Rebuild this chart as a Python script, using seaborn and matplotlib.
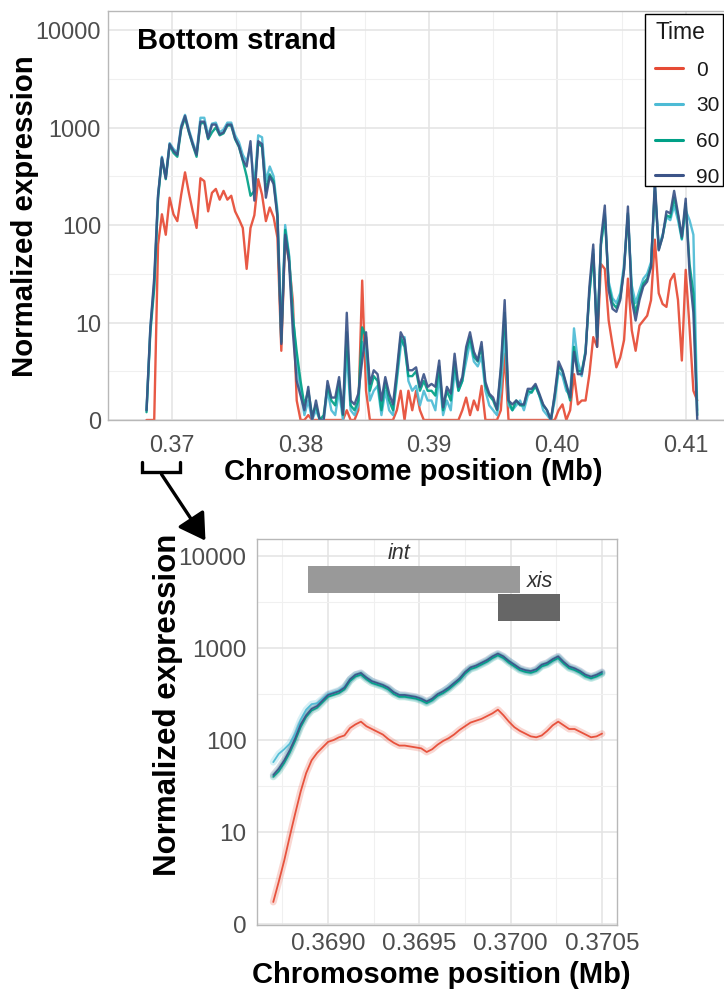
import numpy as np
import pandas as pd
import matplotlib
matplotlib.use("Agg")
import matplotlib.pyplot as plt
import seaborn as sns
from matplotlib.lines import Line2D
from matplotlib.patches import FancyArrowPatch, Rectangle

sns.set_style("white")
plt.rcParams["font.family"] = ["Liberation Sans", "DejaVu Sans"]
plt.rcParams["text.color"] = "black"
plt.rcParams["axes.labelcolor"] = "black"

# ---------------- data ----------------
time_levels = ["0", "30", "60", "90"]
palette = {"0": "#E64B35", "30": "#4DBBD5", "60": "#00A087", "90": "#3C5488"}

ytick_pos = [0, 1, 2, 3, 4]
ytick_labels = ["0", "10", "100", "1000", "10000"]

# top panel: positions in Mb (bins), values = log10(expression + 1)
top_start = 0.3680
top_step = 0.0003
top_log_t0 = [0.0, 0.0, 0.0, 1.8, 2.11, 1.9, 2.28, 2.11, 2.04, 2.31,
              2.54, 2.33, 2.14, 1.97, 2.48, 2.45, 2.14, 2.33, 2.37, 2.26,
              2.35, 2.26, 2.3, 2.14, 2.06, 1.97, 1.55, 1.97, 2.1, 2.47,
              2.31, 2.04, 2.18, 2.08, 1.87, 0.71, 1.87, 1.63, 1.22, 0.2,
              0.0, 0.0, 0.05, 0.0, 0.0, 0.0, 0.0, 0.0, 0.0, 0.0,
              0.0, 0.0, 0.1, 0.0, 0.0, 0.1, 1.43, 0.3, 0.0, 0.0,
              0.0, 0.0, 0.0, 0.0, 0.0, 0.1, 0.3, 0.0, 0.3, 0.1,
              0.3, 0.1, 0.0, 0.0, 0.0, 0.0, 0.0, 0.0, 0.0, 0.0,
              0.0, 0.0, 0.1, 0.23, 0.05, 0.2, 0.1, 0.35, 0.0, 0.0,
              0.0, 0.0, 0.1, 0.68, 0.0, 0.0, 0.0, 0.0, 0.0, 0.0,
              0.0, 0.0, 0.0, 0.0, 0.0, 0.0, 0.0, 0.1, 0.16, 0.0,
              0.1, 0.47, 0.16, 0.2, 0.2, 0.47, 0.85, 0.75, 1.6, 1.55,
              1.02, 0.77, 0.54, 0.64, 0.82, 1.45, 0.92, 0.71, 0.97, 1.02,
              1.07, 1.23, 1.85, 1.3, 1.19, 1.16, 1.43, 1.5, 1.23, 0.61,
              1.54, 0.95, 0.3, 0.2]
top_log_t30 = [0.1, 0.95, 1.4, 2.3, 2.7, 2.5, 2.84, 2.78, 2.74, 3.02,
               3.13, 2.98, 2.85, 2.74, 3.1, 3.1, 2.92, 3.04, 3.05, 2.95,
               2.98, 3.05, 3.05, 2.92, 2.85, 2.72, 2.65, 2.8, 2.4, 2.92,
               2.9, 2.45, 2.6, 2.5, 2.15, 0.9, 2.0, 1.7, 1.1, 0.6,
               0.3, 0.05, 0.2, 0.0, 0.1, 0.0, 0.0, 0.3, 0.1, 0.05,
               0.3, 0.0, 0.7, 0.1, 0.05, 0.15, 0.8, 0.7, 0.2, 0.3,
               0.35, 0.05, 0.3, 0.1, 0.05, 0.4, 0.75, 0.85, 0.4, 0.3,
               0.35, 0.15, 0.3, 0.2, 0.2, 0.1, 0.45, 0.05, 0.2, 0.1,
               0.5, 0.3, 0.4, 0.6, 0.8, 0.6, 0.55, 0.65, 0.3, 0.15,
               0.1, 0.05, 0.3, 0.9, 0.15, 0.1, 0.15, 0.2, 0.1, 0.25,
               0.3, 0.35, 0.25, 0.1, 0.05, 0.0, 0.2, 0.5, 0.45, 0.3,
               0.25, 0.94, 0.6, 0.45, 0.72, 1.3, 1.75, 0.85, 1.8, 2.12,
               1.42, 1.25, 1.2, 1.3, 1.6, 2.1, 1.38, 1.2, 1.33, 1.45,
               1.5, 1.62, 2.35, 1.78, 1.9, 2.08, 2.05, 2.2, 2.05, 1.85,
               2.15, 2.05, 1.9, 0.1]
top_log_t60 = [0.08, 0.9, 1.35, 2.28, 2.68, 2.47, 2.82, 2.74, 2.7, 2.98,
               3.1, 2.95, 2.82, 2.7, 3.04, 3.05, 2.88, 2.95, 3.0, 2.92,
               2.94, 3.02, 3.02, 2.88, 2.8, 2.66, 2.5, 2.3, 2.35, 2.84,
               2.8, 2.35, 2.52, 2.45, 2.1, 0.8, 1.95, 1.68, 1.05, 0.7,
               0.4, 0.15, 0.3, 0.05, 0.15, 0.0, 0.05, 0.35, 0.2, 0.15,
               0.4, 0.05, 0.9, 0.15, 0.1, 0.2, 0.95, 0.85, 0.3, 0.45,
               0.4, 0.1, 0.4, 0.2, 0.1, 0.45, 0.85, 0.75, 0.45, 0.45,
               0.5, 0.3, 0.4, 0.3, 0.3, 0.25, 0.55, 0.1, 0.3, 0.2,
               0.6, 0.3, 0.4, 0.7, 0.85, 0.65, 0.6, 0.75, 0.35, 0.25,
               0.2, 0.1, 0.5, 1.1, 0.2, 0.1, 0.2, 0.15, 0.15, 0.3,
               0.28, 0.35, 0.25, 0.15, 0.1, 0.0, 0.25, 0.55, 0.5, 0.35,
               0.2, 0.75, 0.5, 0.5, 0.7, 1.3, 1.7, 0.85, 1.8, 2.1,
               1.38, 1.2, 1.15, 1.25, 1.55, 2.12, 1.3, 1.1, 1.27, 1.4,
               1.45, 1.58, 2.4, 1.75, 1.88, 2.1, 2.08, 2.28, 2.1, 1.86,
               2.22, 1.6, 1.3, 0.05]
top_log_t90 = [0.1, 0.95, 1.46, 2.31, 2.69, 2.48, 2.83, 2.76, 2.72, 3.0,
               3.12, 2.96, 2.83, 2.72, 3.06, 3.06, 2.89, 3.03, 3.03, 2.93,
               2.95, 3.03, 3.03, 2.89, 2.81, 2.67, 2.6, 2.86, 2.25, 2.86,
               2.83, 2.28, 2.5, 2.42, 2.08, 0.78, 1.9, 1.63, 0.9, 0.4,
               0.25, 0.1, 0.34, 0.0, 0.2, 0.0, 0.0, 0.4, 0.23, 0.23,
               0.44, 0.06, 1.1, 0.2, 0.16, 0.27, 0.61, 0.9, 0.37, 0.51,
               0.47, 0.2, 0.44, 0.27, 0.16, 0.51, 0.9, 0.82, 0.51, 0.51,
               0.54, 0.34, 0.47, 0.34, 0.37, 0.34, 0.61, 0.13, 0.34, 0.27,
               0.68, 0.34, 0.44, 0.75, 0.9, 0.7, 0.61, 0.8, 0.39, 0.27,
               0.23, 0.11, 0.54, 1.23, 0.2, 0.16, 0.2, 0.16, 0.16, 0.32,
               0.32, 0.37, 0.27, 0.16, 0.1, 0.0, 0.27, 0.6, 0.51, 0.37,
               0.23, 0.7, 0.47, 0.47, 0.68, 1.37, 1.8, 0.75, 1.85, 2.2,
               1.33, 1.14, 1.11, 1.23, 1.54, 2.19, 1.23, 1.02, 1.23, 1.37,
               1.42, 1.57, 2.45, 1.74, 1.88, 2.14, 2.12, 2.35, 2.12, 1.88,
               2.27, 1.5, 1.1, 0.0]

top_xticks = [0.37, 0.38, 0.39, 0.40, 0.41]
top_xticklabels = ["0.37", "0.38", "0.39", "0.40", "0.41"]

# bottom (zoom) panel
bot_start = 0.36870
bot_step = 0.00003
bot_log_t0 = [0.24, 0.46, 0.69, 0.95, 1.2, 1.44, 1.64, 1.78, 1.86, 1.92,
              1.98, 2.0, 2.03, 2.05, 2.13, 2.17, 2.2, 2.15, 2.12, 2.09,
              2.06, 2.01, 1.97, 1.94, 1.94, 1.93, 1.92, 1.91, 1.87, 1.9,
              1.95, 1.99, 2.02, 2.06, 2.11, 2.15, 2.19, 2.21, 2.23, 2.26,
              2.29, 2.33, 2.27, 2.2, 2.14, 2.1, 2.07, 2.04, 2.03, 2.05,
              2.1, 2.16, 2.2, 2.16, 2.12, 2.12, 2.09, 2.06, 2.03, 2.04,
              2.07]
bot_log_t30 = [1.76, 1.85, 1.9, 1.96, 2.07, 2.22, 2.33, 2.39, 2.4, 2.45,
               2.5, 2.52, 2.54, 2.58, 2.66, 2.71, 2.72, 2.68, 2.64, 2.61,
               2.59, 2.56, 2.52, 2.49, 2.48, 2.47, 2.46, 2.44, 2.41, 2.44,
               2.49, 2.53, 2.57, 2.62, 2.66, 2.73, 2.78, 2.8, 2.83, 2.86,
               2.9, 2.93, 2.9, 2.86, 2.82, 2.77, 2.75, 2.74, 2.76, 2.81,
               2.83, 2.87, 2.9, 2.84, 2.79, 2.77, 2.74, 2.7, 2.68, 2.7,
               2.73]
bot_log_t60 = [1.6, 1.66, 1.75, 1.86, 1.99, 2.14, 2.25, 2.32, 2.35, 2.41,
               2.47, 2.49, 2.51, 2.55, 2.64, 2.69, 2.71, 2.66, 2.62, 2.6,
               2.58, 2.55, 2.5, 2.47, 2.47, 2.46, 2.45, 2.43, 2.4, 2.43,
               2.48, 2.51, 2.55, 2.6, 2.65, 2.72, 2.77, 2.79, 2.82, 2.85,
               2.89, 2.92, 2.89, 2.84, 2.8, 2.76, 2.74, 2.73, 2.75, 2.8,
               2.82, 2.86, 2.89, 2.83, 2.78, 2.76, 2.73, 2.69, 2.67, 2.69,
               2.72]
bot_log_t90 = [1.62, 1.69, 1.78, 1.89, 2.02, 2.17, 2.27, 2.34, 2.37, 2.43,
               2.49, 2.51, 2.53, 2.57, 2.66, 2.71, 2.73, 2.68, 2.64, 2.62,
               2.6, 2.57, 2.52, 2.49, 2.49, 2.48, 2.47, 2.45, 2.42, 2.45,
               2.5, 2.53, 2.57, 2.62, 2.67, 2.74, 2.79, 2.81, 2.84, 2.87,
               2.91, 2.94, 2.91, 2.86, 2.82, 2.78, 2.76, 2.75, 2.77, 2.82,
               2.84, 2.88, 2.91, 2.85, 2.8, 2.78, 2.75, 2.71, 2.69, 2.71,
               2.74]

bot_xticks = [0.3690, 0.3695, 0.3700, 0.3705]
bot_xticklabels = ["0.3690", "0.3695", "0.3700", "0.3705"]

gene_names = ["int", "xis"]
gene_start = [0.36889, 0.36993]
gene_end = [0.37005, 0.37027]
gene_low = [3.60, 3.29]
gene_high = [3.89, 3.59]
gene_label_x = [0.36939, 0.37016]
gene_label_y = [4.03, 3.72]
gene_colors = ["#999999", "#666666"]


def long_frame(start, step, series):
    rows = []
    for t, vals in zip(time_levels, series):
        pos = np.round(start + step * np.arange(len(vals)), 6)
        rows.append(pd.DataFrame({"pos": pos, "val": vals, "Time": t}))
    return pd.concat(rows, ignore_index=True)


df_top = long_frame(top_start, top_step, [top_log_t0, top_log_t30, top_log_t60, top_log_t90])
df_bot = long_frame(bot_start, bot_step, [bot_log_t0, bot_log_t30, bot_log_t60, bot_log_t90])

# ---------------- figure ----------------
W, H = 724, 991
fig = plt.figure(figsize=(W / 100, H / 100), dpi=100)
fig.patch.set_facecolor("white")


def ax_rect(l, t, r, b):
    return [l / W, 1 - b / H, (r - l) / W, (b - t) / H]


ax1 = fig.add_axes(ax_rect(108, 11, 726, 420))
ax2 = fig.add_axes(ax_rect(257, 539, 617, 925))

grid_major = "#E3E3E3"
grid_minor = "#F0F0F0"
border = "#B8B8B8"
tick_lab = "#4D4D4D"


def style_axes(ax, xminor, yminor, labelsize):
    ax.set_facecolor("white")
    ax.set_yticks(ytick_pos)
    ax.set_yticklabels(ytick_labels)
    ax.set_xticks(xminor, minor=True)
    ax.set_yticks(yminor, minor=True)
    ax.grid(True, which="major", color=grid_major, lw=1.1, zorder=0)
    ax.grid(True, which="minor", color=grid_minor, lw=0.8, zorder=0)
    ax.set_axisbelow(True)
    for s in ax.spines.values():
        s.set_color(border)
        s.set_linewidth(1.0)
    ax.tick_params(which="major", length=3.5, width=1, color=border,
                   labelcolor=tick_lab, labelsize=labelsize)
    ax.tick_params(which="minor", length=0)


# ---- top panel ----
sns.lineplot(data=df_top, x="pos", y="val", hue="Time", hue_order=time_levels,
             palette=palette, linewidth=1.7, alpha=0.92, errorbar=None, ax=ax1)
ax1.set_xlim(0.36579, 0.41314)
ax1.set_ylim(0, 4.195)
ax1.set_xticks(top_xticks)
ax1.set_xticklabels(top_xticklabels)
style_axes(ax1, [0.365, 0.375, 0.385, 0.395, 0.405], [0.5, 1.5, 2.5, 3.5], 16.8)
ax1.spines["right"].set_visible(False)
ax1.tick_params(axis="x", pad=6.5)
ax1.tick_params(axis="y", pad=1.5)
ax1.set_xlabel("Chromosome position (Mb)", fontsize=21, fontweight="bold",
               va="center", color="black")
ax1.xaxis.set_label_coords((413 - 108) / 618, (420 - 472) / 409)
ax1.set_ylabel("Normalized expression", fontsize=21.2, fontweight="bold",
               va="center", color="black")
ax1.yaxis.set_label_coords((25 - 108) / 618, (420 - 216) / 409)
ax1.text((137 - 108) / 618, (420 - 41) / 409, "Bottom strand", transform=ax1.transAxes,
         fontsize=21, fontweight="bold", ha="left", va="center", color="black")

handles, labels = ax1.get_legend_handles_labels()
ax1.get_legend().remove()
for h in handles:
    h.set_linewidth(2.2)
    h.set_alpha(1)
leg = fig.legend(handles, labels, title="Time", loc="upper left",
                 bbox_to_anchor=(655 / W, 1 - 21 / H), bbox_transform=fig.transFigure,
                 borderaxespad=0, borderpad=0, frameon=False,
                 fontsize=15, title_fontsize=16.5, handlelength=1.35,
                 handletextpad=0.62, labelspacing=0.8, alignment="left",
                 labelcolor="#1A1A1A")
leg.get_title().set_color("#1A1A1A")
leg.set_zorder(9)
fig.add_artist(Rectangle((645, H - 186), 78, 172, transform=None, facecolor="white",
                         edgecolor="black", lw=1.0, zorder=8))

# ---- bottom panel ----
sns.lineplot(data=df_bot, x="pos", y="val", hue="Time", hue_order=time_levels,
             palette=palette, linewidth=5, alpha=0.22, errorbar=None, legend=False, ax=ax2)
sns.lineplot(data=df_bot, x="pos", y="val", hue="Time", hue_order=time_levels,
             palette=palette, linewidth=1.3, alpha=0.95, errorbar=None, legend=False, ax=ax2)
ax2.bar(gene_start, np.array(gene_high) - np.array(gene_low),
        width=np.array(gene_end) - np.array(gene_start), bottom=gene_low,
        align="edge", color=gene_colors, edgecolor="none", zorder=3)
for name, gx, gy in zip(gene_names, gene_label_x, gene_label_y):
    ax2.text(gx, gy, name, fontsize=15.5, fontstyle="italic", color="#333333",
             ha="center", va="center", zorder=4)
ax2.set_xlim(0.368611, 0.370582)
ax2.set_ylim(-0.01, 4.185)
ax2.set_xticks(bot_xticks)
ax2.set_xticklabels(bot_xticklabels)
style_axes(ax2, [0.36875, 0.36925, 0.36975, 0.37025], [0.5, 1.5, 2.5, 3.5], 17.5)
ax2.tick_params(axis="x", pad=2.5)
ax2.tick_params(axis="y", pad=4)
ax2.set_xlabel("Chromosome position (Mb)", fontsize=21, fontweight="bold",
               va="center", color="black")
ax2.xaxis.set_label_coords((441 - 257) / 360, (925 - 975) / 386)
ax2.set_ylabel("Normalized expression", fontsize=22.5, fontweight="bold",
               va="center", color="black")
ax2.yaxis.set_label_coords((168 - 257) / 360, (925 - 705) / 386)

# ---- bracket and arrow (figure pixel coordinates) ----
bx = [142, 142, 180, 180]
by = [H - 462, H - 472, H - 472, H - 462]
fig.add_artist(Line2D(bx, by, transform=None, color="black", lw=2.4,
                      solid_joinstyle="miter"))
arrow = FancyArrowPatch((160, H - 472), (207, H - 543), transform=None,
                        arrowstyle="-|>,head_length=10,head_width=6",
                        mutation_scale=1.6, color="black", lw=2.4)
fig.add_artist(arrow)

fig.savefig("out.png", dpi=100, facecolor="white")
